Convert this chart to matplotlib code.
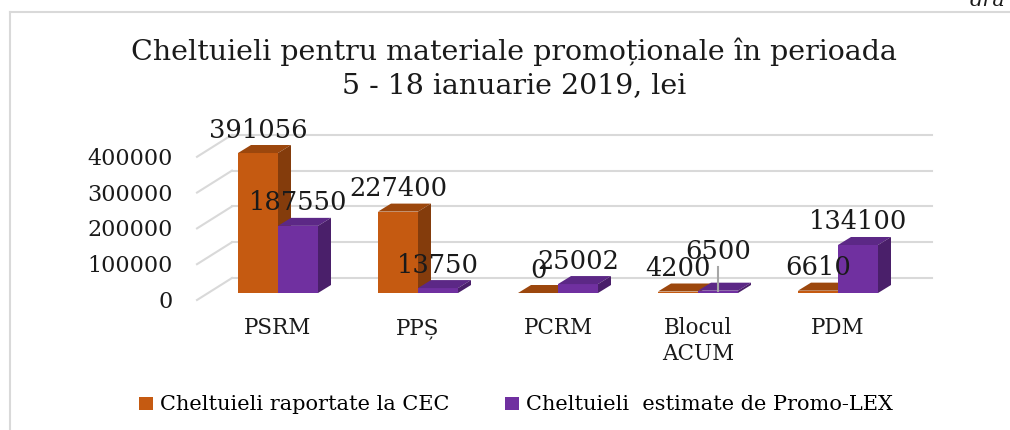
import matplotlib
matplotlib.use('Agg')
import matplotlib.pyplot as plt
from matplotlib.patches import Polygon
from matplotlib.lines import Line2D

# data
parties = ['PSRM', 'PPȘ', 'PCRM', 'Blocul\nACUM', 'PDM']
raportate = [391056, 227400, 0, 4200, 6610]
estimate = [187550, 13750, 25002, 6500, 134100]
series_names = ['Cheltuieli raportate la CEC', 'Cheltuieli  estimate de Promo-LEX']
yticks = [0, 100000, 200000, 300000, 400000]
title = 'Cheltuieli pentru materiale promoționale în perioada\n5 - 18 ianuarie 2019, lei'

W, H = 1010, 430
SERIF = 'DejaVu Serif'
TXT = '#1a1a1a'
GRID = '#d9d9d9'

fig = plt.figure(figsize=(W / 100, H / 100), dpi=100)
ax = fig.add_axes([180 / W, (H - 320) / H, 770 / W, 200 / H])
ax.set_xlim(-0.7, 4.8)
ax.set_ylim(-75400, 483250)
ax.axis('off')

# pixel -> data helpers (fake 3D depth is done in pixels)
xspan = ax.get_xlim()[1] - ax.get_xlim()[0]
yspan = ax.get_ylim()[1] - ax.get_ylim()[0]
def dx(p):
    return p * xspan / 770
def dy(p):
    return p * yspan / 200

back = (dx(24), dy(15))
front = (dx(-11), dy(-7))
x0, x1 = -0.5, len(parties) - 0.5

# back wall gridlines, side wall diagonals and tick labels
for v in yticks:
    ax.plot([x0 + back[0], x1 + back[0]], [v + back[1]] * 2, color=GRID, lw=1.5, zorder=1)
    ax.plot([x0 + front[0], x0 + back[0]], [v + front[1], v + back[1]], color=GRID, lw=1.5, zorder=1)
    ax.text(x0 + front[0] - dx(24), v + front[1] - dy(2), f'{v}', ha='right', va='center',
            fontsize=16, family=SERIF, color=TXT, clip_on=False)

w = 40 / 140
depth = (dx(13), dy(8))
styles = [
    (raportate, -w / 2, ('#C55A11', '#9C470D', '#843C0C')),
    (estimate, w / 2, ('#7030A0', '#5C2886', '#4A1F6A')),
]
lifted = {(1, 3): 16}  # 6500 label sits higher, with a leader line

handles = []
for s, (vals, off, (cf, ct, cs)) in enumerate(styles):
    z = 2 + 3 * s
    xs = [i + off for i in range(len(parties))]
    bars = ax.bar(xs, vals, w, color=cf, linewidth=0, zorder=z)
    handles.append(bars)
    for i, (xc, h) in enumerate(zip(xs, vals)):
        xl, xr = xc - w / 2, xc + w / 2
        top = [(xl, h), (xr, h), (xr + depth[0], h + depth[1]), (xl + depth[0], h + depth[1])]
        side = [(xr, 0), (xr, h), (xr + depth[0], h + depth[1]), (xr + depth[0], depth[1])]
        ax.add_patch(Polygon(top, closed=True, facecolor=ct, edgecolor='none', zorder=z + 1))
        ax.add_patch(Polygon(side, closed=True, facecolor=cs, edgecolor='none', zorder=z + 1))
        extra = lifted.get((s, i), 0)
        if extra:
            ax.plot([xc, xc], [h, h + dy(24)], color='#a6a6a6', lw=1.5, zorder=9)
        ax.annotate(f'{h}', (xc, h), xytext=(0, 23 + extra), textcoords='offset pixels',
                    ha='center', va='center', fontsize=18.5, family=SERIF, color=TXT,
                    zorder=10, annotation_clip=False)

# category labels
for i, name in enumerate(parties):
    for j, line in enumerate(name.split('\n')):
        ax.text(i, -dy(41 + 26 * j), line, ha='center', va='baseline', fontsize=15.5,
                family=SERIF, color=TXT, clip_on=False)

# title
for j, line in enumerate(title.split('\n')):
    fig.text(514 / W, (H - 60 - 33 * j) / H, line, ha='center', va='baseline',
             fontsize=20.5, family=SERIF, color=TXT)

fig.legend(handles=handles, labels=series_names, loc='center',
           bbox_to_anchor=(516 / W, (H - 405) / H), ncol=2, frameon=False,
           prop={'family': SERIF, 'size': 15}, handlelength=0.67, handleheight=0.58,
           handletextpad=0.34, columnspacing=2.7, borderpad=0, borderaxespad=0)

# chart frame and clipped page text
fig.add_artist(Line2D([10 / W, 1], [(H - 12) / H] * 2, color=GRID, lw=1.5))
fig.add_artist(Line2D([10 / W] * 2, [0, (H - 12) / H], color=GRID, lw=1.5))
fig.text(970 / W, (H - 6) / H, 'dra', style='italic', fontsize=15, family=SERIF,
         color=TXT, va='baseline')

fig.savefig('out.png', dpi=100)
